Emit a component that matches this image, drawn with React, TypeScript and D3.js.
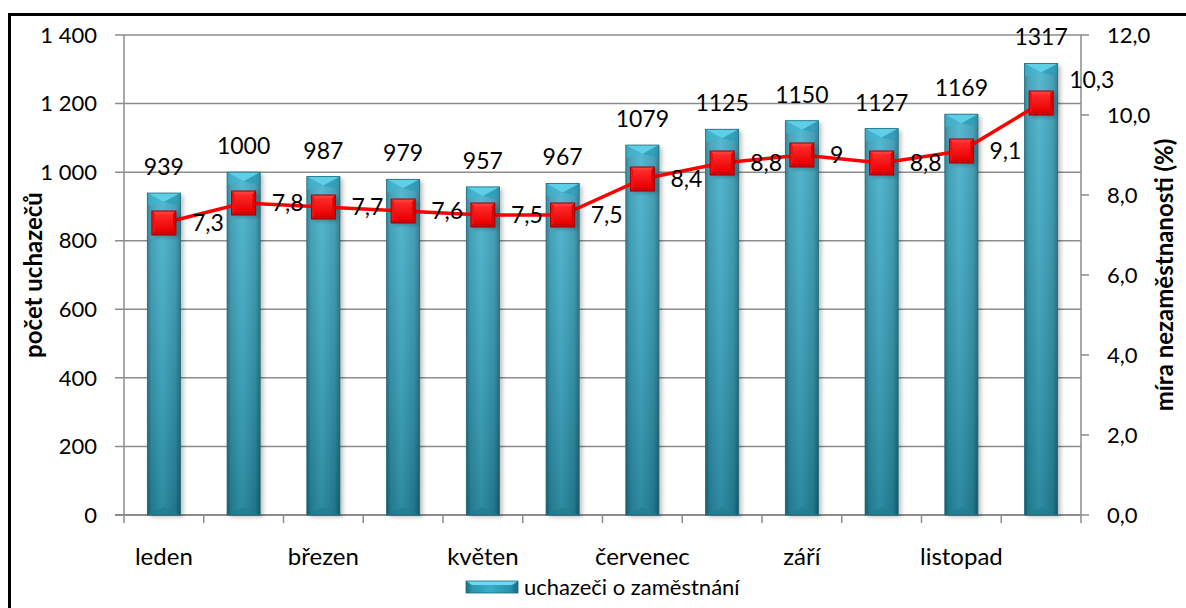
import React from 'react';
import * as d3 from 'd3';

const months = ['leden', 'únor', 'březen', 'duben', 'květen', 'červen', 'červenec', 'srpen', 'září', 'říjen', 'listopad', 'prosinec'];
const applicants = [939, 1000, 987, 979, 957, 967, 1079, 1125, 1150, 1127, 1169, 1317];
const rate = [7.3, 7.8, 7.7, 7.6, 7.5, 7.5, 8.4, 8.8, 9, 8.8, 9.1, 10.3];
const leftTicks = [0, 200, 400, 600, 800, 1000, 1200, 1400];
const rightTicks = [0, 2, 4, 6, 8, 10, 12];
const shownMonths = ['leden', 'březen', 'květen', 'červenec', 'září', 'listopad'];

const W = 1186, H = 608;
const plot = { left: 124, right: 1081, top: 35, bottom: 515 };
const FONT = 'Lato, "Noto Sans", sans-serif';

const fmtLeft = (v: number) => d3.format(',')(v).replace(/,/g, ' ');
const fmtRight = (v: number) => d3.format('.1f')(v).replace('.', ',');
const fmtRate = (v: number) => String(v).replace('.', ',');

export default function App() {
  const x = d3.scaleBand<string>()
    .domain(months)
    .range([plot.left, plot.right])
    .paddingInner(0.585)
    .paddingOuter(0.2925);
  const yL = d3.scaleLinear().domain([0, 1400]).range([plot.bottom, plot.top]);
  const yR = d3.scaleLinear().domain([0, 12]).range([plot.bottom, plot.top]);
  const bw = x.bandwidth();
  const cx = (m: string) => (x(m) as number) + bw / 2;

  const line = d3.line<number>()
    .x((_, i) => cx(months[i]))
    .y(d => yR(d));

  const ms = 12; // half marker size

  return (
    <svg width={W} height={H} style={{ position: 'absolute', left: 0, top: 0, background: '#fff' }}
      fontFamily={FONT}>
      <defs>
        <linearGradient id="barH" x1="0" x2="1" y1="0" y2="0">
          <stop offset="0" stopColor="#1b6f82" />
          <stop offset="0.12" stopColor="#2a96b0" />
          <stop offset="0.45" stopColor="#38adc9" />
          <stop offset="0.85" stopColor="#2892ac" />
          <stop offset="1" stopColor="#1a6a7d" />
        </linearGradient>
        <linearGradient id="barV" x1="0" x2="0" y1="0" y2="1">
          <stop offset="0" stopColor="#ffffff" stopOpacity="0.15" />
          <stop offset="1" stopColor="#000000" stopOpacity="0.2" />
        </linearGradient>
        <linearGradient id="mk" x1="0" x2="0" y1="0" y2="1">
          <stop offset="0" stopColor="#ff2a2a" />
          <stop offset="1" stopColor="#e80000" />
        </linearGradient>
        <filter id="shadow" x="-30%" y="-10%" width="160%" height="130%">
          <feGaussianBlur in="SourceAlpha" stdDeviation="2" />
          <feOffset dx="3" dy="2" result="b" />
          <feComponentTransfer><feFuncA type="linear" slope="0.25" /></feComponentTransfer>
          <feMerge><feMergeNode /><feMergeNode in="SourceGraphic" /></feMerge>
        </filter>
      </defs>

      {/* outer frame */}
      <rect x={9.5} y={14.5} width={1300} height={700} fill="none" stroke="#000" strokeWidth={3} />

      {/* gridlines */}
      {leftTicks.slice(1).map(t => (
        <line key={'g' + t} x1={plot.left - 9} x2={plot.right} y1={yL(t)} y2={yL(t)} stroke="#8c8c8c" strokeWidth={1.5} />
      ))}
      {leftTicks.slice(0, 1).map(t => (
        <line key={'t' + t} x1={plot.left - 9} x2={plot.left} y1={yL(t)} y2={yL(t)} stroke="#8c8c8c" strokeWidth={1.5} />
      ))}

      {/* left axis */}
      <line x1={plot.left} x2={plot.left} y1={plot.top} y2={plot.bottom} stroke="#8c8c8c" strokeWidth={1.5} />
      {leftTicks.map(t => (
        <text key={'l' + t} x={plot.left - 27} y={yL(t)} dy="0.35em" textAnchor="end" fontSize={22} fill="#000">{fmtLeft(t)}</text>
      ))}
      <text transform={`translate(42,${(plot.top + plot.bottom) / 2}) rotate(-90)`} textAnchor="middle" fontSize={24} fontWeight="bold">počet uchazečů</text>

      {/* right axis */}
      <line x1={plot.right} x2={plot.right} y1={plot.top} y2={plot.bottom} stroke="#8c8c8c" strokeWidth={1.5} />
      {rightTicks.map(t => (
        <g key={'r' + t}>
          <line x1={plot.right} x2={plot.right + 8} y1={yR(t)} y2={yR(t)} stroke="#8c8c8c" strokeWidth={1.5} />
          <text x={plot.right + 26} y={yR(t)} dy="0.35em" fontSize={22}>{fmtRight(t)}</text>
        </g>
      ))}
      <text transform={`translate(1173,${(plot.top + plot.bottom) / 2}) rotate(-90)`} textAnchor="middle" fontSize={24} fontWeight="bold">míra nezaměstnanosti (%)</text>

      {/* bottom axis */}
      <line x1={plot.left - 9} x2={plot.right} y1={plot.bottom} y2={plot.bottom} stroke="#8c8c8c" strokeWidth={2} />
      {months.map(m => (
        <line key={'bt' + m} x1={(x(m) as number) - x.step() * 0.2925} x2={(x(m) as number) - x.step() * 0.2925}
          y1={plot.bottom} y2={plot.bottom + 8} stroke="#8c8c8c" strokeWidth={1.5} />
      ))}
      <line x1={plot.right} x2={plot.right} y1={plot.bottom} y2={plot.bottom + 8} stroke="#8c8c8c" strokeWidth={1.5} />
      {shownMonths.map(m => (
        <text key={'xl' + m} x={cx(m)} y={565} textAnchor="middle" fontSize={24}>{m}</text>
      ))}

      {/* bars */}
      {applicants.map((v, i) => {
        const bx = x(months[i]) as number;
        const top = yL(v);
        const h = plot.bottom - top;
        const bev = 9;
        return (
          <g key={'b' + i}>
            <g filter="url(#shadow)">
              <rect x={bx} y={top} width={bw} height={h} fill="url(#barH)" />
            </g>
            <rect x={bx} y={top} width={bw} height={h} fill="url(#barV)" />
            <polygon points={`${bx},${top} ${bx + bw},${top} ${bx + bw / 2},${top + bev}`} fill="#5fcfe8" />
            <polygon points={`${bx},${top} ${bx + bw / 2},${top + bev} ${bx},${top + bev + 4}`} fill="#3db6d3" opacity={0.6} />
            <polygon points={`${bx + bw},${top} ${bx + bw / 2},${top + bev} ${bx + bw},${top + bev + 4}`} fill="#2a9bb6" opacity={0.6} />
            <polygon points={`${bx},${plot.bottom} ${bx + bw},${plot.bottom} ${bx + bw / 2},${plot.bottom - 8}`} fill="#1f7d92" opacity={0.7} />
            <rect x={bx} y={top} width={bw} height={h} fill="none" stroke="#1b6a7c" strokeWidth={0.8} />
            <text x={bx + bw / 2} y={top - 18} textAnchor="middle" fontSize={23}>{v}</text>
          </g>
        );
      })}

      {/* line */}
      <path d={line(rate) || ''} fill="none" stroke="#ff0000" strokeWidth={3.5} />
      {rate.map((v, i) => {
        const px = cx(months[i]);
        const py = yR(v);
        return (
          <g key={'m' + i}>
            <rect x={px - ms} y={py - ms} width={ms * 2} height={ms * 2} fill="#b80000" filter="url(#shadow)" />
            <polygon points={`${px - ms},${py - ms} ${px + ms},${py - ms} ${px},${py}`} fill="#ff3b3b" />
            <polygon points={`${px - ms},${py - ms} ${px - ms},${py + ms} ${px},${py}`} fill="#f41010" />
            <polygon points={`${px + ms},${py - ms} ${px + ms},${py + ms} ${px},${py}`} fill="#e00000" />
            <polygon points={`${px - ms},${py + ms} ${px + ms},${py + ms} ${px},${py}`} fill="#d40000" />
            <rect x={px - ms + 3} y={py - ms + 3} width={ms * 2 - 6} height={ms * 2 - 6} fill="url(#mk)" />
            <rect x={px - ms} y={py - ms} width={ms * 2} height={ms * 2} fill="none" stroke="#a30000" strokeWidth={1} />
            <text x={px + 28} y={i === rate.length - 1 ? py - 23 : py} dy="0.35em" fontSize={23}>{fmtRate(v)}</text>
          </g>
        );
      })}

      {/* legend */}
      <g>
        <rect x={466} y={581} width={52} height={12} fill="url(#barH)" />
        <polygon points="466,581 518,581 512,585 472,585" fill="#6fd8ef" />
        <rect x={466} y={581} width={52} height={12} fill="none" stroke="#1b6a7c" strokeWidth={0.8} />
        <text x={524} y={595} fontSize={22}>uchazeči o zaměstnání</text>
      </g>
    </svg>
  );
}
